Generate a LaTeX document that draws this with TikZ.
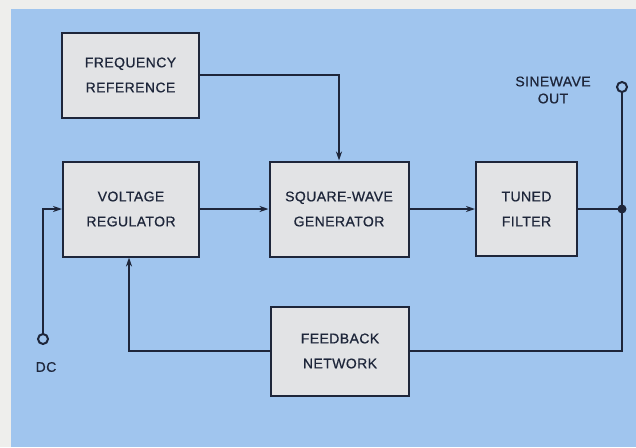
\documentclass[tikz,border=0pt]{standalone}
\usepackage{fontspec}
\setmainfont{Liberation Sans}[FakeBold=0.7, LetterSpace=3]
\usetikzlibrary{arrows.meta}

\definecolor{paper}{RGB}{238,238,236}
\definecolor{sky}{RGB}{160,197,238}
\definecolor{boxgrey}{RGB}{226,227,229}
\definecolor{ink}{RGB}{30,38,58}

\tikzset{
    block/.style={draw=ink, line width=2pt, fill=boxgrey, align=center,
        text=ink, font=\fontsize{14}{25}\selectfont, inner sep=0pt},
    wire/.style={draw=ink, line width=2pt},
    term/.style={circle, draw=ink, line width=2pt, fill=sky, inner sep=0pt, minimum size=10pt},
    lbl/.style={text=ink, align=center, font=\fontsize{14}{17}\selectfont}
}

\begin{document}
\begin{tikzpicture}[x=1pt, y=-1pt, >={Stealth[length=9pt,width=6pt]}]
    % background
    \fill[paper] (0,0) rectangle (636,447);
    \fill[sky] (11,9) rectangle (636,447);
    \useasboundingbox (0,0) rectangle (636,447);

    \node[block, minimum width=137pt, minimum height=85pt] (freq) at (130.5,75) {FREQUENCY\\REFERENCE};
    \node[block, minimum width=136pt, minimum height=95pt] (volt) at (131,209) {VOLTAGE\\REGULATOR};
    \node[block, minimum width=139pt, minimum height=95pt] (sqw) at (339,209) {SQUARE-WAVE\\GENERATOR};
    \node[block, minimum width=101pt, minimum height=94pt] (tuned) at (526.5,209) {TUNED\\FILTER};
    \node[block, minimum width=138pt, minimum height=89pt] (fb) at (340,351) {FEEDBACK\\NETWORK};

    \node[term] (dc) at (43,339) {};
    \node[term] (out) at (622,87) {};
    \node[lbl] (dclabel) at (46,367) {DC};
    \node[lbl] (outlabel) at (553,90) {SINEWAVE\\OUT};

    \coordinate (tap) at (622,209);
    \coordinate (turn) at (622,351);

    \draw[wire, ->] (freq.east) -| (sqw.north);
    \draw[wire, ->] (volt.east) -- (sqw.west);
    \draw[wire, ->] (sqw.east) -- (tuned.west);
    \draw[wire] (tuned.east) -- (tap);
    \draw[wire] (out) -- (turn) -- (fb.east);
    \fill[ink] (tap) circle (4.5pt);
    \draw[wire, ->] (fb.west) -| ([xshift=-2pt]volt.south);
    \draw[wire, ->] (dc) |- (volt.west);
\end{tikzpicture}
\end{document}
